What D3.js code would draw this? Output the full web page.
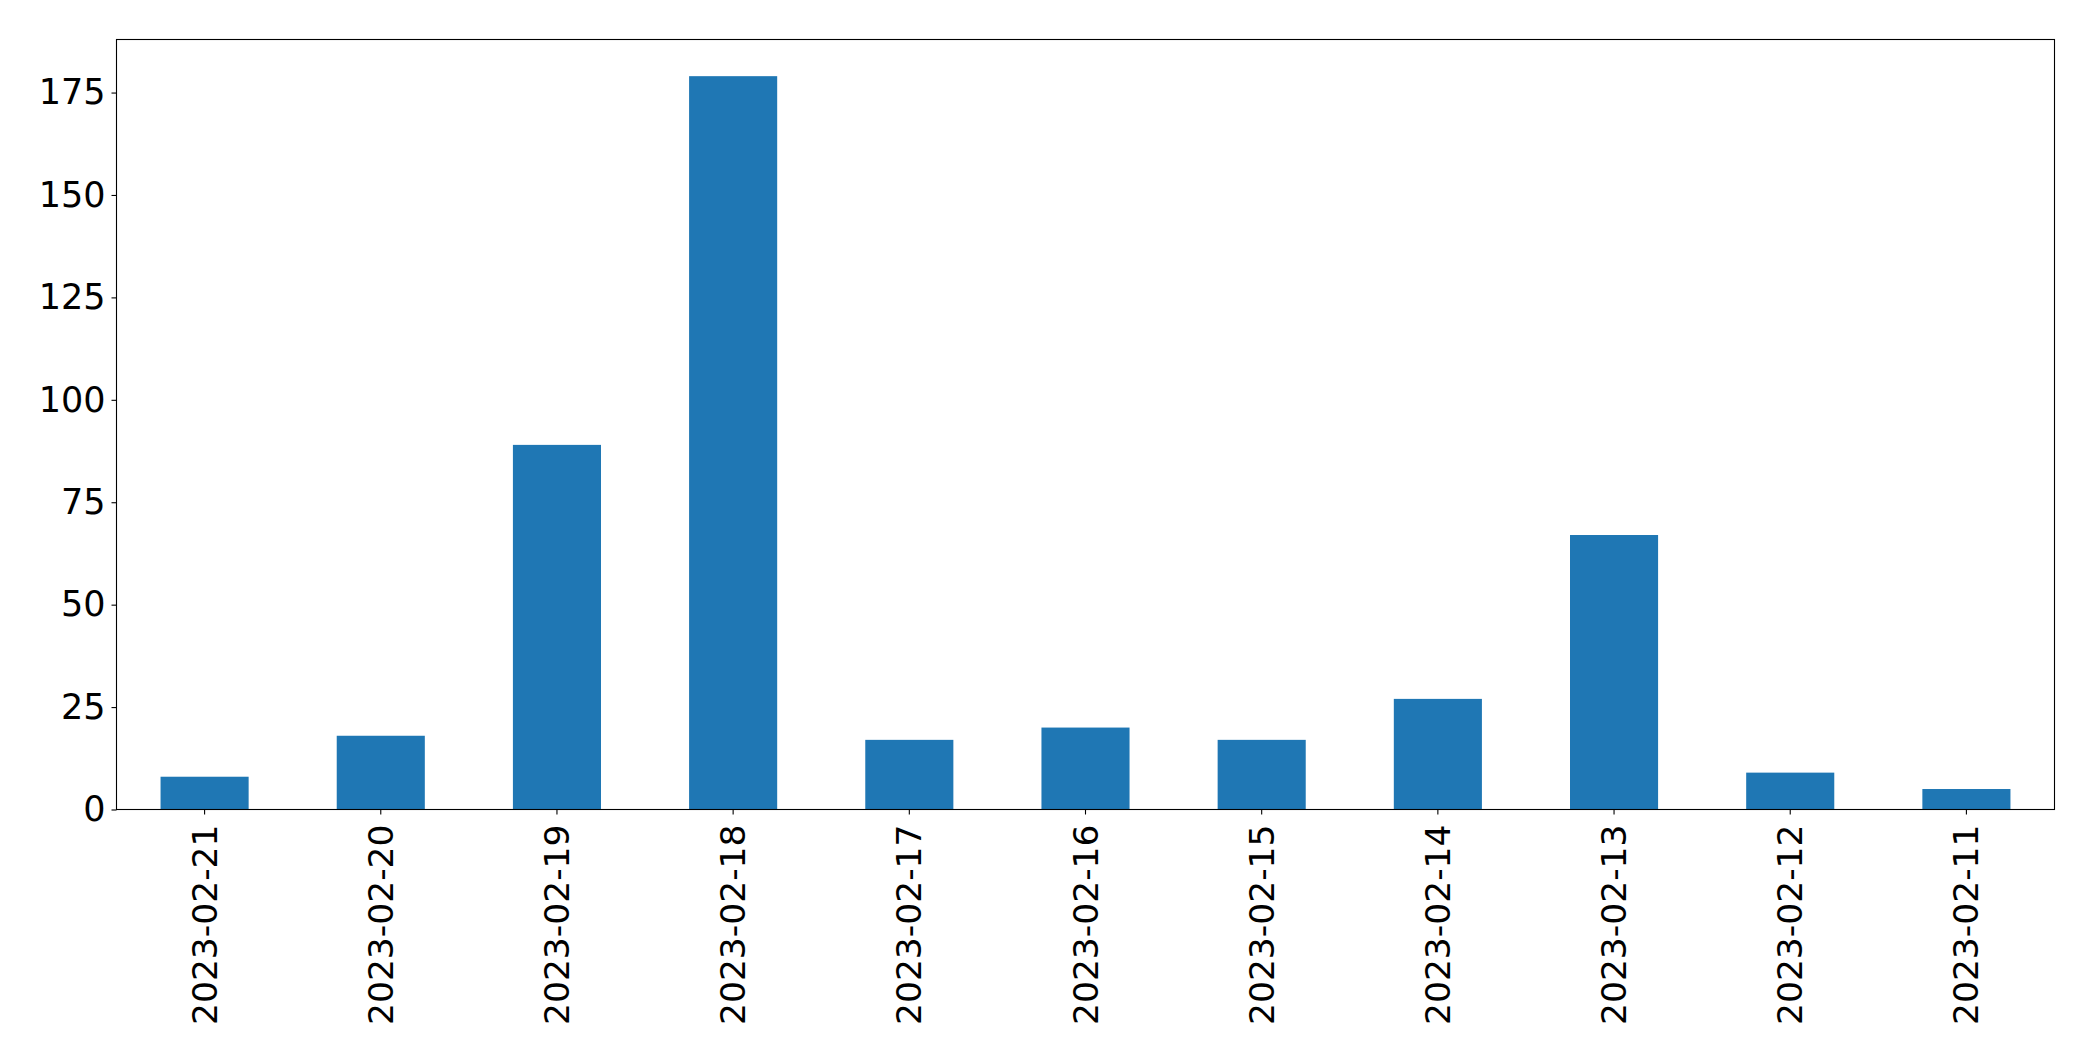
<!DOCTYPE html>
<html>
<head>
<meta charset="utf-8">
<script src="https://cdn.jsdelivr.net/npm/d3@7"></script>
<style>
  html, body { margin: 0; padding: 0; background: #fff; }
  svg { display: block; }
  text { font-family: "DejaVu Sans", sans-serif; }
</style>
</head>
<body>
<svg id="chart" width="2093" height="1061"></svg>
<script>
const categories = ["2023-02-21","2023-02-20","2023-02-19","2023-02-18","2023-02-17","2023-02-16","2023-02-15","2023-02-14","2023-02-13","2023-02-12","2023-02-11"];
const values = [8, 18, 89, 179, 17, 20, 17, 27, 67, 9, 5];
const yTicks = [0, 25, 50, 75, 100, 125, 150, 175];

const svg = d3.select("#chart");
const margin = {left: 116.5, top: 39.5, right: 2093 - 2054.5, bottom: 1061 - 809.5};
const W = 2093, H = 1061;

const x = d3.scaleBand()
  .domain(categories)
  .range([margin.left, W - margin.right])
  .paddingInner(0.5)
  .paddingOuter(0.25);

const y = d3.scaleLinear()
  .domain([0, d3.max(values) * 1.05])
  .range([H - margin.bottom, margin.top]);

svg.append("g").selectAll("rect")
  .data(values)
  .join("rect")
  .attr("x", (d, i) => x(categories[i]))
  .attr("width", x.bandwidth())
  .attr("y", d => y(d))
  .attr("height", d => y(0) - y(d))
  .attr("fill", "#1f77b4");

// y axis
const yAxis = svg.append("g")
  .attr("transform", `translate(${margin.left},0)`)
  .call(d3.axisLeft(y).tickValues(yTicks).tickSize(5).tickPadding(6).tickFormat(d3.format("d")));
yAxis.select(".domain").remove();
yAxis.selectAll("line").attr("stroke", "#000").attr("stroke-width", 1.1);
yAxis.selectAll("text").attr("font-size", 35).attr("font-family", "DejaVu Sans").attr("fill", "#000");

// x axis
const xAxis = svg.append("g")
  .attr("transform", `translate(0,${H - margin.bottom})`)
  .call(d3.axisBottom(x).tickSize(5).tickPadding(6));
xAxis.select(".domain").remove();
xAxis.selectAll("line").attr("stroke", "#000").attr("stroke-width", 1.1);
xAxis.selectAll("text")
  .attr("font-size", 34.5)
  .attr("font-family", "DejaVu Sans")
  .attr("fill", "#000")
  .attr("text-anchor", "end")
  .attr("dy", null)
  .attr("dominant-baseline", "central")
  .attr("transform", "translate(0,15) rotate(-90)")
  .attr("y", 0)
  .attr("x", 0);

// frame
svg.append("rect")
  .attr("x", margin.left)
  .attr("y", margin.top)
  .attr("width", W - margin.right - margin.left)
  .attr("height", H - margin.bottom - margin.top)
  .attr("fill", "none")
  .attr("stroke", "#000")
  .attr("stroke-width", 1.1);
</script>
</body>
</html>
